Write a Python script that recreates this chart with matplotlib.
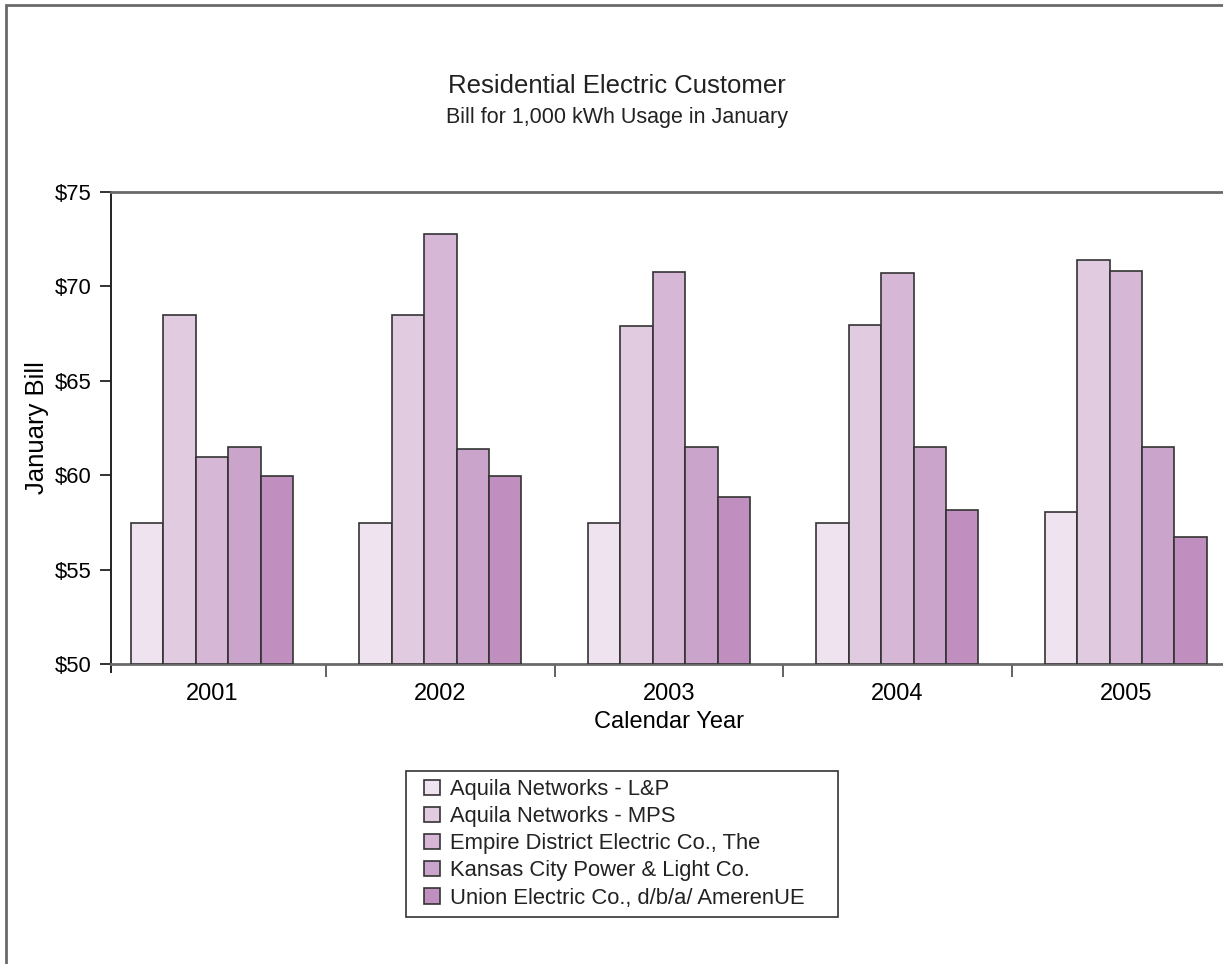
import matplotlib
matplotlib.use("Agg")
import numpy as np
import matplotlib.pyplot as plt
from matplotlib.patches import Rectangle

plt.rcParams['font.family'] = ['Liberation Sans', 'DejaVu Sans']
plt.rcParams['text.color'] = '#222222'

# data
years = ['2001', '2002', '2003', '2004', '2005']
companies = ['Aquila Networks - L&P', 'Aquila Networks - MPS',
             'Empire District Electric Co., The', 'Kansas City Power & Light Co.',
             'Union Electric Co., d/b/a/ AmerenUE']
aquila_lp = [57.49, 57.46, 57.46, 57.46, 58.04]
aquila_mps = [68.48, 68.46, 67.92, 67.96, 71.39]
empire = [60.97, 72.75, 70.76, 70.69, 70.83]
kcpl = [61.48, 61.41, 61.48, 61.48, 61.48]
union_elec = [59.96, 59.96, 58.85, 58.16, 56.75]
colors = ['#eee3ef', '#e0cbe1', '#d6b8d6', '#caa4cb', '#c08ebf']

series = [aquila_lp, aquila_mps, empire, kcpl, union_elec]

W, H = 1223, 964
fig = plt.figure(figsize=(W / 100, H / 100), dpi=100)
ax = fig.add_axes([111 / W, 1 - 664 / H, 1 - 111 / W, (664 - 192) / H])

x = np.arange(len(years))
bw = 0.1418
for i, (vals, lab) in enumerate(zip(series, companies)):
    ax.bar(x + (i - 2) * bw, np.array(vals) - 50, bw, bottom=50, color=colors[i],
           edgecolor='#333333', linewidth=1.2, label=lab, zorder=3)

ax.set_ylim(50, 75)
ax.set_xlim(-0.442, 4.425)
ax.set_yticks([50, 55, 60, 65, 70, 75])
ax.set_yticklabels(['$%d' % v for v in [50, 55, 60, 65, 70, 75]], fontsize=15.8)
ax.tick_params(axis='y', direction='out', length=8, width=1.3, color='#222222', pad=6)

# category labels centred, tick marks between categories
ax.set_xticks(x)
ax.set_xticklabels(years, fontsize=17)
ax.tick_params(axis='x', which='major', length=0, pad=14)
ax.set_xticks(np.arange(0.5, 4.5, 1), minor=True)
ax.tick_params(axis='x', which='minor', direction='out', length=9, width=1.3, color='#555555')

for s in ['top', 'bottom']:
    ax.spines[s].set_color('#6a6a6a')
    ax.spines[s].set_linewidth(2)
ax.spines['left'].set_color('#222222')
ax.spines['left'].set_linewidth(1.4)
ax.spines['right'].set_visible(False)
ax.plot([0, 0], [0, -0.018], transform=ax.transAxes, clip_on=False, color='#222222', lw=1.4)

ax.set_xlabel('Calendar Year', fontsize=17)
ax.xaxis.set_label_coords((669 - 111) / (W - 111), -0.1)
ax.set_ylabel('January Bill', fontsize=18.5)
ax.yaxis.set_label_coords(-(111 - 49) / (W - 111), 0.5)

fig.text(617 / W, 1 - 93 / H, 'Residential Electric Customer', fontsize=18.5, ha='center', va='baseline')
fig.text(617 / W, 1 - 123 / H, 'Bill for 1,000 kWh Usage in January', fontsize=15.5, ha='center', va='baseline')

# legend with a plain box
leg = fig.legend(loc='upper left', bbox_to_anchor=(424 / W, 1 - 779 / H), frameon=False,
                 fontsize=15.8, handlelength=0.75, handleheight=0.7, handletextpad=0.45,
                 labelspacing=0.28, borderpad=0, borderaxespad=0)
fig.patches.append(Rectangle((406 / W, 1 - 917 / H), (838 - 406) / W, (917 - 771) / H,
                             transform=fig.transFigure, fill=False, edgecolor='#333333', lw=1.2))

# outer chart border
fig.patches.append(Rectangle((5.5 / W, -0.1), 1.2, 1.1 - 5 / H, transform=fig.transFigure,
                             fill=False, edgecolor='#6a6a6a', lw=2))

fig.savefig('out.png', dpi=100)
